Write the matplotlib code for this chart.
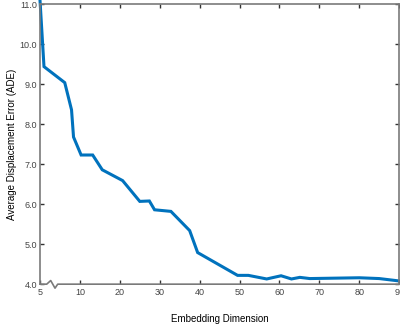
import numpy as np
import matplotlib
matplotlib.use("Agg")
import matplotlib.pyplot as plt

plt.rcParams['font.family'] = ['Liberation Sans', 'DejaVu Sans']

# embedding dimension vs. ADE
dims = [5, 5.5, 8.1, 8.95, 9.2, 10.3, 13.2, 15.6, 20.7, 25, 27.4, 28.7, 32.8,
        37.5, 39.5, 49.5, 52.2, 56.8, 60.4, 63, 65.1, 67.6, 80, 85, 90]
ade = [11.1, 9.44, 9.04, 8.36, 7.68, 7.23, 7.23, 6.86, 6.59, 6.07, 6.08, 5.86, 5.82,
       5.34, 4.79, 4.22, 4.22, 4.13, 4.21, 4.13, 4.17, 4.14, 4.16, 4.14, 4.08]

xticks = [5, 10, 20, 30, 40, 50, 60, 70, 80, 90]
yticks = [4.0, 5.0, 6.0, 7.0, 8.0, 9.0, 10.0, 11.0]


# broken axis: 5..10 is stretched to the width of one 10-unit step
def fwd(x):
    x = np.asarray(x, dtype=float)
    return np.where(x < 10, 10 - (10 - x) * 2, x)


def inv(u):
    u = np.asarray(u, dtype=float)
    return np.where(u < 10, 10 - (10 - u) / 2, u)


fig = plt.figure(figsize=(4, 3.27), dpi=100)
ax = fig.add_axes([0.1, 0.131, 0.898, 0.856])
ax.set_xscale('function', functions=(fwd, inv))

ax.plot(dims, ade, color='#0072BD', lw=2.2, clip_on=False, solid_joinstyle='miter')

ax.set_xlim(5, 90)
ax.set_ylim(4.0, 11.0)
ax.set_xticks(xticks)
ax.set_xticklabels([str(t) for t in xticks])
ax.set_yticks(yticks)
ax.set_yticklabels(['%.1f' % t for t in yticks])

gray = '#7a7a7a'
for s in ['top', 'right', 'left']:
    ax.spines[s].set_color(gray)
    ax.spines[s].set_linewidth(1.2)
ax.spines['bottom'].set_visible(False)

# bottom spine with break mark
bx = [0, 0.0187, 0.0298, 0.0418, 0.0493, 1.0]
by = [0, 0, 0.0129, -0.0143, 0, 0]
ax.plot(bx, by, color=gray, lw=1.2, transform=ax.transAxes, clip_on=False)

ax.tick_params(direction='in', length=3, width=1, color='#333333',
               labelsize=6.5, labelcolor='#444444', top=True, right=True, pad=2)
ax.tick_params(axis='x', pad=3)

ax.set_xlabel('Embedding Dimension', fontsize=7, labelpad=12)
ax.set_ylabel('Average Displacement Error (ADE)', fontsize=7, labelpad=2)

fig.savefig('out.png', dpi=100)
